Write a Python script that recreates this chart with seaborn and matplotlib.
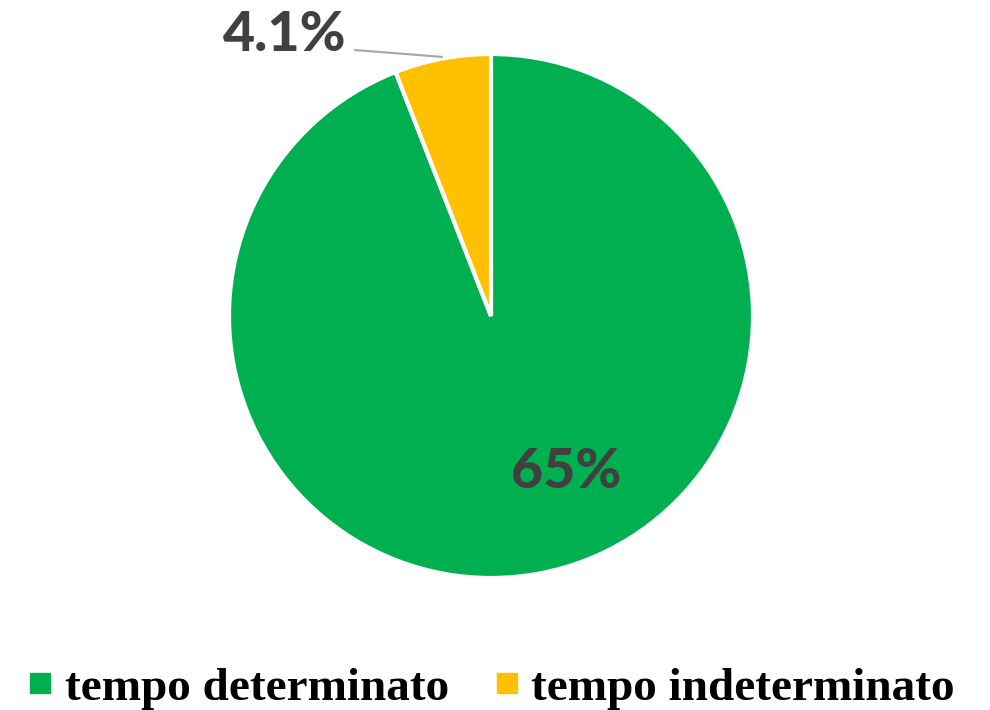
import matplotlib
matplotlib.use("Agg")
import matplotlib.pyplot as plt
from matplotlib.lines import Line2D
import seaborn as sns

categories = ["tempo determinato", "tempo indeterminato"]
values = [65, 4.1]
labels = ["65%", "4.1%"]
colors = ["#00B050", "#FFC000"]

sns.set_theme(style="white")
plt.rcParams['font.family'] = ['Lato', 'DejaVu Sans']

fig = plt.figure(figsize=(9.9, 7.1), dpi=100)
cx, cy, r = 491, 316, 262
ax = fig.add_axes([(cx - r) / 990, (710 - cy - r) / 710, 2 * r / 990, 2 * r / 710])
wedges, _ = ax.pie(values, colors=colors, startangle=90, counterclock=False,
                   wedgeprops=dict(edgecolor="white", linewidth=3))
ax.set_xlim(-1, 1)
ax.set_ylim(-1, 1)
ax.set_aspect("equal")
ax.axis("off")

ax.text(0.286, -0.595, labels[0], ha="center", va="center", fontsize=40,
        fontweight="black", color="#404040")
ax.text(-0.786, 1.073, labels[1], ha="center", va="center", fontsize=40,
        fontweight="black", color="#404040", clip_on=False)
ax.plot([-0.519, -0.187], [1.015, 0.989], color="#A6A6A6", linewidth=1.5, clip_on=False)

handles = [Line2D([0], [0], marker="s", linestyle="none", markersize=15,
                  markerfacecolor=c, markeredgecolor=c) for c in colors]
fig.legend(handles, categories, loc="center", bbox_to_anchor=(0.497, (710 - 688) / 710),
           ncol=2, frameon=False, handlelength=0.45, handletextpad=0.3,
           columnspacing=1.0, labelcolor="black",
           prop=dict(family="Liberation Serif", weight="bold", size=34))

fig.savefig("out.png", dpi=100)
